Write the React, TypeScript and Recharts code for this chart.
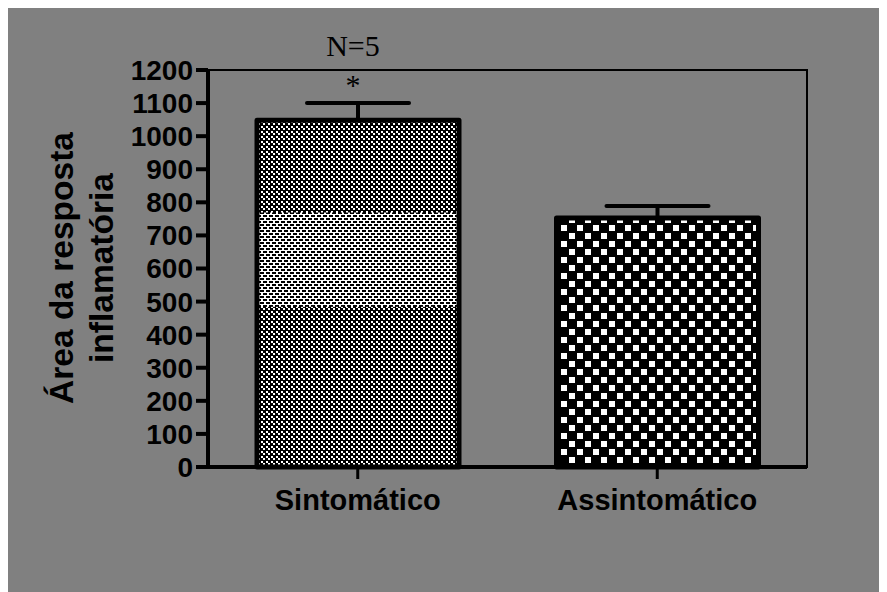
import React from 'react';
import { BarChart, Bar, XAxis, YAxis, ErrorBar, Customized, ReferenceArea } from 'recharts';

const categories = ['Sintomático', 'Assintomático'];
const means = [1048, 753];
const sem = [52, 36];
const yTicks = [0, 100, 200, 300, 400, 500, 600, 700, 800, 900, 1000, 1100, 1200];
const yLabelLines = ['Área da resposta', 'inflamatória'];
const annotationN = 'N=5';
const annotationSig = '*';

const data = categories.map((name, i) => ({ name, value: means[i], err: [0, sem[i]] }));

const SANS = '"Liberation Sans", Arial, Helvetica, sans-serif';
const SERIF = '"Liberation Serif", "Times New Roman", serif';

const PatternBar = (props: any) => {
  const { x, y, width, height, index } = props;
  if (width == null || height == null) return null;
  const fill = index === 0 ? 'url(#patFine)' : 'url(#patCoarse)';
  return (
    <g>
      <rect x={x} y={y} width={width} height={height} fill={fill} />
      {index === 0 && (
        <rect x={x} y={y + height * 0.266} width={width} height={height * 0.272} fill="url(#patBand)" />
      )}
      <rect x={x} y={y} width={width} height={height} fill="none" stroke="#000" strokeWidth={5} strokeLinejoin="round" />
    </g>
  );
};

const YLabel = () => (
  <g>
    <text transform="translate(65,260) rotate(-90)" textAnchor="middle" fontFamily={SANS} fontWeight="bold" fontSize={33.5} fill="#000">
      {yLabelLines[0]}
    </text>
    <text transform="translate(105,260) rotate(-90)" textAnchor="middle" fontFamily={SANS} fontWeight="bold" fontSize={33.5} fill="#000">
      {yLabelLines[1]}
    </text>
  </g>
);

const Annotations = () => (
  <g>
    <text x={345} y={48} textAnchor="middle" fontFamily={SERIF} fontSize={30} fill="#000">{annotationN}</text>
    <text x={345} y={87} textAnchor="middle" fontFamily={SERIF} fontSize={30} fill="#000">{annotationSig}</text>
  </g>
);

export default function App() {
  return (
    <div style={{ width: 879, height: 584, background: '#808080', position: 'relative' }}>
      <svg width={0} height={0} style={{ position: 'absolute' }}>
        <defs>
          <pattern id="patFine" patternUnits="userSpaceOnUse" width={5} height={5}>
            <rect x={0} y={0} width={5} height={5} fill="#000" />
            <rect x={0} y={0} width={2} height={2} fill="#fff" />
            <rect x={3} y={3} width={2} height={2} fill="#fff" />
          </pattern>
          <pattern id="patBand" patternUnits="userSpaceOnUse" width={6} height={6}>
            <rect x={0} y={0} width={6} height={6} fill="#fff" />
            <rect x={0} y={0} width={4} height={2} fill="#000" />
            <rect x={3} y={3} width={4} height={2} fill="#000" />
            <rect x={-3} y={3} width={4} height={2} fill="#000" />
          </pattern>
          <pattern id="patCoarse" patternUnits="userSpaceOnUse" width={16} height={16}>
            <rect x={0} y={0} width={16} height={16} fill="#000" />
            <rect x={1} y={1} width={6} height={6} fill="#fff" />
            <rect x={9} y={9} width={6} height={6} fill="#fff" />
          </pattern>
        </defs>
      </svg>
      <BarChart
        width={879}
        height={584}
        data={data}
        margin={{ top: 62, right: 80, bottom: 65, left: 0 }}
        barCategoryGap={0}
      >
        <ReferenceArea
          x1={categories[0]}
          x2={categories[categories.length - 1]}
          y1={0}
          y2={1200}
          fill="none"
          fillOpacity={0}
          stroke="#000"
          strokeWidth={2}
          strokeOpacity={1}
          ifOverflow="visible"
        />
        <XAxis
          dataKey="name"
          tickSize={12}
          tickMargin={10}
          axisLine={{ stroke: '#000', strokeWidth: 4 }}
          tickLine={{ stroke: '#000', strokeWidth: 3 }}
          tick={{ fill: '#000', fontSize: 29, fontWeight: 'bold', fontFamily: SANS }}
          height={60}
          interval={0}
        />
        <YAxis
          domain={[0, 1200]}
          ticks={yTicks}
          interval={0}
          width={200}
          tickSize={12}
          tickMargin={3}
          axisLine={{ stroke: '#000', strokeWidth: 4 }}
          tickLine={{ stroke: '#000', strokeWidth: 4 }}
          tick={{ fill: '#000', fontSize: 28, fontWeight: 'bold', fontFamily: SANS }}
        />
        <Bar dataKey="value" barSize={202} shape={<PatternBar />} isAnimationActive={false}>
          <ErrorBar dataKey="err" width={51} strokeWidth={4} stroke="#000" strokeLinecap="round" direction="y" />
        </Bar>
        <Customized component={YLabel} />
        <Customized component={Annotations} />
      </BarChart>
    </div>
  );
}
